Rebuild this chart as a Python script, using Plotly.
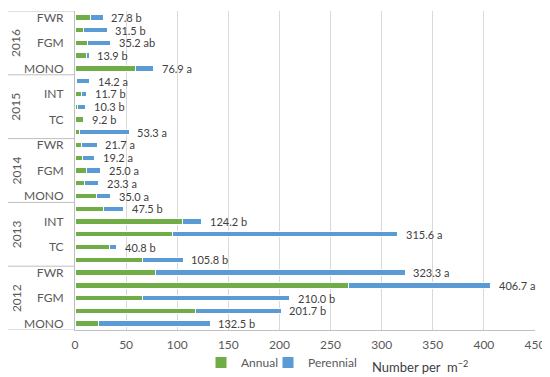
import plotly.graph_objects as go

# Rows listed top to bottom
years = ["2016", "2015", "2014", "2013", "2012"]
systems = ["FWR", "INT", "FGM", "TC", "MONO"]
visible_labels = {
    "2016": ["FWR", "FGM", "MONO"],
    "2015": ["INT", "TC"],
    "2014": ["FWR", "FGM", "MONO"],
    "2013": ["INT", "TC"],
    "2012": ["FWR", "FGM", "MONO"],
}
annual = [14.7, 8.0, 12.0, 10.8, 58.7,
          1.5, 6.0, 2.5, 8.0, 4.3,
          6.5, 7.5, 11.7, 8.8, 20.9,
          27.7, 105.3, 94.9, 33.3, 66.5,
          78.9, 268.0, 65.8, 118.0, 23.2]
perennial = [13.1, 23.5, 23.2, 3.1, 18.2,
             12.7, 5.7, 7.8, 1.2, 49.0,
             15.2, 11.7, 13.3, 14.5, 14.1,
             19.8, 18.9, 220.7, 7.5, 39.3,
             244.4, 138.7, 144.2, 83.7, 109.3]
totals = [27.8, 31.5, 35.2, 13.9, 76.9,
          14.2, 11.7, 10.3, 9.2, 53.3,
          21.7, 19.2, 25.0, 23.3, 35.0,
          47.5, 124.2, 315.6, 40.8, 105.8,
          323.3, 406.7, 210.0, 201.7, 132.5]
letters = ["b", "b", "ab", "b", "a",
           "a", "b", "b", "b", "a",
           "a", "a", "a", "a", "a",
           "b", "b", "a", "b", "b",
           "a", "a", "b", "b", "b"]
x_ticks = [0, 50, 100, 150, 200, 250, 300, 350, 400, 450]

n = len(years) * len(systems)
ypos = list(range(n))

GREEN = "#70AD47"
BLUE = "#5B9BD5"
GRID = "#D9D9D9"
LINE = "#BFBFBF"
TXT = "#595959"
FONT = "Lato"

# page body has an 8px default margin, so the figure is drawn 8px in from the corner
W, H = 542, 369
ML, MR, MT, MB = 67, 15, 3, 47
plot_w = W - ML - MR
plot_h = H - MT - MB


def px_x(px):  # reference screen x -> paper x
    return (px - 8 - ML) / plot_w


def px_y(py):  # reference screen y -> paper y
    return 1 - (py - 8 - MT) / plot_h


fig = go.Figure()
fig.add_trace(go.Bar(y=ypos, x=annual, orientation="h", name="Annual",
                     marker=dict(color=GREEN, line=dict(color="white", width=1)),
                     width=0.42, hoverinfo="x", legend="legend"))
fig.add_trace(go.Bar(y=ypos, x=perennial, orientation="h", name="Perennial",
                     marker=dict(color=BLUE, line=dict(color="white", width=1)),
                     width=0.42, hoverinfo="x", legend="legend2"))

annotations = []
for i in range(n):
    annotations.append(dict(x=totals[i], y=ypos[i], xref="x", yref="y",
                            text=f"{totals[i]:.1f} {letters[i]}", showarrow=False,
                            xanchor="left", yanchor="middle", xshift=6,
                            font=dict(family=FONT, size=11, color="#404040")))

tickvals, ticktext = [], []
shapes = []
xl = px_x(8)
for g, yr in enumerate(years):
    for j, s in enumerate(systems):
        if s in visible_labels[yr]:
            tickvals.append(g * 5 + j)
            ticktext.append(s)
    annotations.append(dict(x=px_x(16), y=g * 5 + 2, xref="paper", yref="y", text=yr,
                            textangle=-90, showarrow=False, xanchor="center", yanchor="middle",
                            font=dict(family=FONT, size=12, color=TXT)))
    shapes.append(dict(type="line", xref="paper", yref="y", x0=xl, x1=0,
                       y0=g * 5 - 0.5, y1=g * 5 - 0.5, line=dict(color=LINE, width=1)))
shapes.append(dict(type="line", xref="paper", yref="y", x0=xl, x1=0,
                   y0=n - 0.5, y1=n - 0.5, line=dict(color=LINE, width=1)))

annotations.append(dict(x=px_x(420), y=px_y(366), xref="paper", yref="paper",
                        text="Number per  m<sup>−2</sup>", showarrow=False,
                        xanchor="center", yanchor="middle",
                        font=dict(family=FONT, size=13, color="#404040")))

leg_common = dict(orientation="h", xanchor="left", yanchor="top",
                  font=dict(family=FONT, size=12, color=TXT),
                  itemwidth=30, bgcolor="rgba(0,0,0,0)")

fig.update_layout(
    width=W, height=H,
    margin=dict(l=ML, r=MR, t=MT, b=MB, autoexpand=False),
    paper_bgcolor="white", plot_bgcolor="white",
    barmode="stack",
    font=dict(family=FONT, size=12, color=TXT),
    showlegend=True,
    legend=dict(x=px_x(201), y=px_y(348), **leg_common),
    legend2=dict(x=px_x(268), y=px_y(348), **leg_common),
    xaxis=dict(range=[0, 450], tickvals=x_ticks, showgrid=True, gridcolor=GRID,
               zeroline=False, showline=True, linecolor=LINE, ticks="", automargin=False,
               tickfont=dict(family=FONT, size=12, color=TXT), ticklabelstandoff=4),
    yaxis=dict(range=[n - 0.5, -0.5], tickvals=tickvals, ticktext=ticktext, automargin=False,
               showgrid=False, zeroline=False, showline=True, linecolor=LINE, ticks="",
               tickfont=dict(family=FONT, size=12, color=TXT), ticklabelstandoff=8),
    annotations=annotations,
    shapes=shapes,
)

fig.write_html("out.html")
